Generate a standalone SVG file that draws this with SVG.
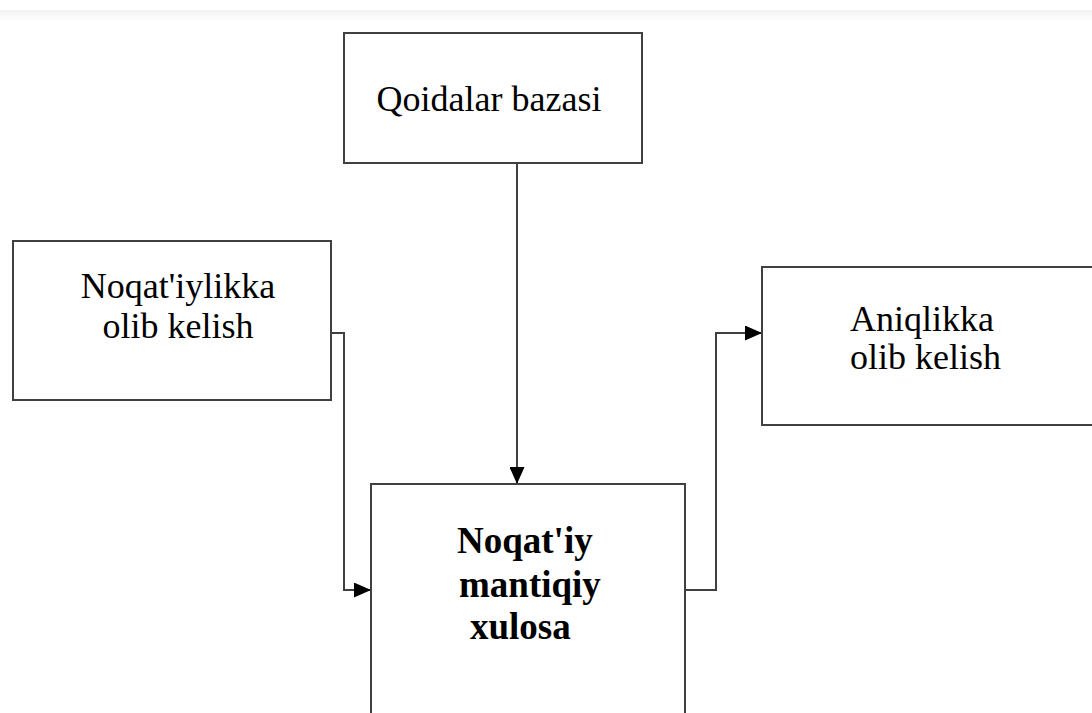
<svg xmlns="http://www.w3.org/2000/svg" width="1092" height="713" viewBox="0 0 1092 713">
<defs>
<linearGradient id="band" x1="0" y1="0" x2="0" y2="1">
<stop offset="0" stop-color="#f2f2f2"/>
<stop offset="1" stop-color="#ffffff"/>
</linearGradient>
<marker id="arr" markerWidth="17" markerHeight="15" refX="16" refY="7.5" orient="auto" markerUnits="userSpaceOnUse">
<path d="M0,0 L17,7.5 L0,15 z" fill="#000"/>
</marker>
<style>
.box{fill:#fff;stroke:#404040;stroke-width:2}
.t{font-family:"Liberation Serif","Times New Roman",serif;font-size:36px;fill:#000}
.b{font-weight:bold;font-size:37px}
.c{fill:none;stroke:#404040;stroke-width:2}
</style>
</defs>
<rect x="0" y="0" width="1092" height="713" fill="#fff"/>
<rect x="0" y="10" width="1092" height="12" fill="url(#band)"/>
<g id="connectors">
<polyline class="c" points="331,333 344,333 344,590 370,590" marker-end="url(#arr)"/>
<line class="c" x1="517" y1="163" x2="517" y2="483" marker-end="url(#arr)"/>
<polyline class="c" points="685,590 716,590 716,333 761,333" marker-end="url(#arr)"/>
</g>
<g id="qoidalar">
<rect class="box" x="344" y="33" width="298" height="130"/>
<text class="t" x="489" y="111" text-anchor="middle">Qoidalar bazasi</text>
</g>
<g id="noqatiylikka">
<rect class="box" x="13" y="241" width="318" height="159"/>
<text class="t" x="178" y="298" text-anchor="middle">Noqat'iylikka</text>
<text class="t" x="178" y="338" text-anchor="middle">olib kelish</text>
</g>
<g id="aniqlikka">
<rect class="box" x="762" y="267" width="340" height="158"/>
<text class="t" x="850" y="331">Aniqlikka</text>
<text class="t" x="850" y="369">olib kelish</text>
</g>
<g id="mantiqiy">
<rect class="box" x="371" y="484" width="314" height="260"/>
<text class="t b" x="457" y="553">Noqat'iy</text>
<text class="t b" x="459" y="597">mantiqiy</text>
<text class="t b" x="470" y="639">xulosa</text>
</g>
</svg>
